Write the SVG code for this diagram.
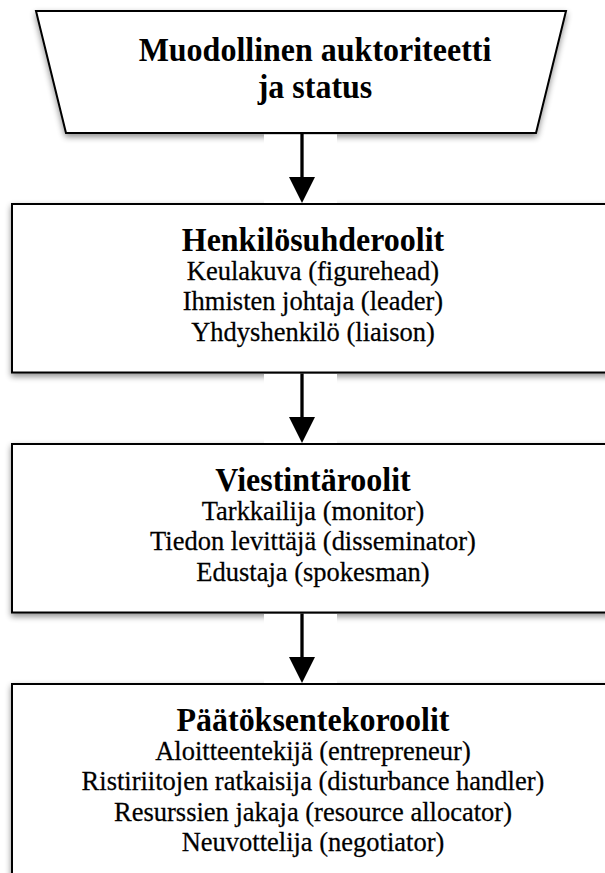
<svg xmlns="http://www.w3.org/2000/svg" width="605" height="873" viewBox="0 0 605 873">
  <defs>
    <filter id="shadow" x="-10%" y="-10%" width="120%" height="130%">
      <feGaussianBlur in="SourceAlpha" stdDeviation="3"/>
      <feOffset dx="0" dy="3" result="blur"/>
      <feComponentTransfer><feFuncA type="linear" slope="0.45"/></feComponentTransfer>
      <feMerge><feMergeNode/><feMergeNode in="SourceGraphic"/></feMerge>
    </filter>
  </defs>
  <style>
    .shape { fill: #fff; stroke: #000; stroke-width: 2; }
    text { font-family: "Liberation Serif", "Times New Roman", Tinos, "DejaVu Serif", serif; fill: #000; text-anchor: middle; }
    .title { font-weight: 700; font-size: 32px; }
    .item { font-weight: 400; font-style: normal; font-size: 26.5px; stroke: #000; stroke-width: 0.25; }
    .link { stroke: #000; stroke-width: 3.3; fill: none; }
    .gap { fill: #fff; }
  </style>
  <rect width="605" height="873" fill="#fff"/>

  <!-- Top trapezoid: formal authority and status -->
  <g id="authority">
    <polygon class="shape" filter="url(#shadow)" points="36,11 566,11 536,133 66,133"/>
    <g transform="matrix(1 0 0 1.07 0 -4.27)"><text class="title" x="315" y="61">Muodollinen auktoriteetti</text></g>
    <g transform="matrix(1 0 0 1.07 0 -6.86)"><text class="title" x="315" y="98">ja status</text></g>
  </g>

  <!-- Interpersonal roles -->
  <g id="interpersonal">
    <rect class="shape" filter="url(#shadow)" x="12" y="204" width="602" height="168.5"/>
    <g transform="matrix(1 0 0 1.07 0 -17.57)"><text class="title" x="313" y="251">Henkilösuhderoolit</text></g>
    <g transform="matrix(1 0 0 1.07 0 -19.6)"><text class="item" x="313" y="280">Keulakuva (figurehead)</text></g>
    <g transform="matrix(1 0 0 1.07 0 -21.74)"><text class="item" x="313" y="310.5">Ihmisten johtaja (leader)</text></g>
    <g transform="matrix(1 0 0 1.07 0 -23.87)"><text class="item" x="313" y="341">Yhdyshenkilö (liaison)</text></g>
  </g>

  <!-- Informational roles -->
  <g id="informational">
    <rect class="shape" filter="url(#shadow)" x="12" y="444" width="602" height="168.5"/>
    <g transform="matrix(1 0 0 1.07 0 -34.37)"><text class="title" x="313" y="491">Viestintäroolit</text></g>
    <g transform="matrix(1 0 0 1.07 0 -36.4)"><text class="item" x="313" y="520">Tarkkailija (monitor)</text></g>
    <g transform="matrix(1 0 0 1.07 0 -38.54)"><text class="item" x="313" y="550.5">Tiedon levittäjä (disseminator)</text></g>
    <g transform="matrix(1 0 0 1.07 0 -40.67)"><text class="item" x="313" y="581">Edustaja (spokesman)</text></g>
  </g>

  <!-- Decisional roles -->
  <g id="decisional">
    <rect class="shape" filter="url(#shadow)" x="12" y="684" width="602" height="220"/>
    <g transform="matrix(1 0 0 1.07 0 -51.17)"><text class="title" x="313" y="731">Päätöksentekoroolit</text></g>
    <g transform="matrix(1 0 0 1.07 0 -53.2)"><text class="item" x="313" y="760">Aloitteentekijä (entrepreneur)</text></g>
    <g transform="matrix(1 0 0 1.07 0 -55.34)"><text class="item" x="313" y="790.5">Ristiriitojen ratkaisija (disturbance handler)</text></g>
    <g transform="matrix(1 0 0 1.07 0 -57.47)"><text class="item" x="313" y="821">Resurssien jakaja (resource allocator)</text></g>
    <g transform="matrix(1 0 0 1.07 0 -59.61)"><text class="item" x="313" y="851.5">Neuvottelija (negotiator)</text></g>
  </g>

  <!-- Connectors -->
  <g id="connectors">
    <rect class="gap" x="264" y="134.5" width="73" height="68.5"/>
    <rect class="gap" x="264" y="374" width="73" height="69"/>
    <rect class="gap" x="264" y="614" width="73" height="69"/>
    <line class="link" x1="302" y1="134" x2="302" y2="178"/>
    <path d="M289,177 L315,177 L302,203 Z" fill="#000"/>
    <line class="link" x1="302" y1="373.5" x2="302" y2="418"/>
    <path d="M289,417 L315,417 L302,443 Z" fill="#000"/>
    <line class="link" x1="302" y1="613.5" x2="302" y2="658"/>
    <path d="M289,657 L315,657 L302,683 Z" fill="#000"/>
  </g>
</svg>
